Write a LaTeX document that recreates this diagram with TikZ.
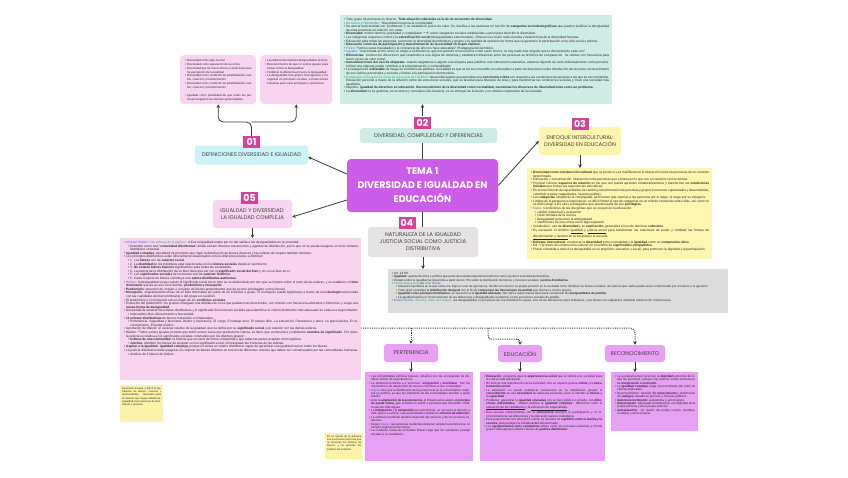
\documentclass[tikz,border=0pt]{standalone}
\usepackage{fontspec}
\setmainfont{Liberation Sans}
\newfontfamily\titlefont{Poppins}
\usepackage{xcolor}
\usepackage{enumitem}
\usepackage{tikz}
\usetikzlibrary{arrows.meta, positioning, calc}

\definecolor{temacol}{HTML}{CC5DE8}
\definecolor{numcol}{HTML}{D6419B}
\definecolor{cyanbg}{HTML}{CBF4F9}
\definecolor{mintbg}{HTML}{CDEDE4}
\definecolor{yellowbg}{HTML}{FDF5B0}
\definecolor{graybg}{HTML}{DCDCDC}
\definecolor{graytop}{HTML}{E4E2E2}
\definecolor{pinkbg}{HTML}{F9D4F1}
\definecolor{lilacbg}{HTML}{E7A0F3}
\definecolor{notebg}{HTML}{FCF3A8}
\definecolor{linecol}{HTML}{3A3A3A}
\definecolor{namecol}{HTML}{2F6FD8}
\definecolor{titlecol}{HTML}{2BAA62}

\newcommand{\detfont}{\fontsize{3.2}{3.6}\selectfont}
\newcommand{\smallfont}{\fontsize{3}{3.4}\selectfont}
\newcommand{\azul}[1]{\textcolor{namecol}{#1}}
\newcommand{\verde}[1]{\textcolor{titlecol}{#1}}
\newcommand{\bloque}[3]{\parbox[t][#2][t]{#1}{\begin{itemize}#3\end{itemize}}}
\setlist[itemize]{label=\textbullet, leftmargin=3pt, labelsep=1pt, itemsep=0pt, parsep=0pt, topsep=0pt, partopsep=0pt}
\setlist[itemize,2]{leftmargin=4pt}
\emergencystretch=3pt

\begin{document}
\begin{tikzpicture}[
    x=1pt, y=-1pt,
    >=Stealth,
    tema/.style={rectangle, fill=temacol, rounded corners=4pt, text=white, align=center,
      font=\titlefont\bfseries\fontsize{9.5}{14}\selectfont, minimum width=151pt, minimum height=53pt},
    topic/.style={rectangle, fill=#1, rounded corners=3pt, align=center, text=black!75,
      font=\titlefont\fontsize{5.4}{7}\selectfont, inner sep=1pt},
    num/.style={rectangle, fill=numcol, text=white, font=\titlefont\bfseries\fontsize{9.5}{9.5}\selectfont,
      minimum width=17pt, minimum height=12pt, inner sep=0pt},
    detbox/.style={rectangle, fill=#1, anchor=north west, inner sep=3pt, font=\detfont, text=black!85},
    note/.style={detbox=notebg, inner sep=2pt, font=\fontsize{2.6}{3.3}\selectfont},
    link/.style={draw=linecol, line width=0.8pt},
    arrow/.style={link, -{Stealth[length=3.5pt, width=3.5pt]}},
    dotarrow/.style={arrow, densely dotted, line width=1pt},
]
    \fill[white] (0,0) rectangle (848,477);
    \useasboundingbox (0,0) rectangle (848,477);

    % Tema central
    \node[tema] (tema) at (422.5,185.5) {TEMA 1\\DIVERSIDAD E IGUALDAD EN\\EDUCACIÓN};

    % 01
    \node[topic=cyanbg, minimum width=113pt, minimum height=19pt] (defbox) at (251.5,155) {DEFINICIONES DIVERSIDAD E IGUALDAD};
    \node[num, above=-3pt of defbox] (n01) {01};

    % 02
    \node[topic=mintbg, minimum width=137pt, minimum height=15pt] (dcbox) at (428.5,135.5) {DIVERSIDAD, COMPLEJIDAD Y DIFERENCIAS};
    \coordinate (n02pos) at (dcbox.north -| tema.north);
    \node[num, anchor=south, yshift=-1pt] (n02) at (n02pos) {02};

    % 03
    \node[topic=yellowbg, minimum width=82pt, minimum height=28pt] (intbox) at (580,141) {ENFOQUE INTERCULTURAL:\\DIVERSIDAD EN EDUCACIÓN};
    \node[num, above=-3pt of intbox] (n03) {03};

    % 04
    \node[topic=graytop, minimum width=110pt, minimum height=30pt] (natbox) at (423,242) {NATURALEZA DE LA IGUALDAD\\JUSTICIA SOCIAL COMO JUSTICIA\\DISTRIBUTIVA};
    \node[num, above=-2pt of natbox, xshift=-16pt] (n04) {04};

    % 05
    \node[topic=pinkbg, minimum width=79pt, minimum height=28pt] (igbox) at (252.5,214) {IGUALDAD Y DIVERSIDAD:\\LA IGUALDAD COMPLEJA};
    \node[num, above=-4pt of igbox, xshift=-3pt] (n05) {05};

    % Definiciones
    \node[detbox=pinkbg, rounded corners=4pt, inner sep=4pt, font=\fontsize{2.9}{3.9}\selectfont] (defa) at (180,55) {\bloque{68pt}{41pt}{
      \item Diversidad como algo normal
      \item Diversidad como separación de la norma
      \item Diversidad que nos hace únicos y condiciona nuestra percepción de la realidad
      \item Diversidad como condición de posibilidad de cambio, creación y transformación
      \item Diversidad como condición de posibilidad de cambio, creación y transformación\vspace{3.9pt}
      \item Igualdad como posibilidad de que todas las personas tengamos las mismas oportunidades}};
    \node[detbox=pinkbg, rounded corners=4pt, inner sep=4pt, font=\fontsize{2.9}{3.9}\selectfont] (defb) at (260,55) {\bloque{64pt}{41pt}{
      \item Las diferencias también desigualdades (Freire)
      \item Reconocimiento de que no somos iguales para luchar contra la desigualdad
      \item Visibilizar la diferencia provoca la desigualdad
      \item La desigualdad crea grupos homogéneos y los organiza en principios sociales, construcciones humanas para crear privilegios y opresiones}};

    % Diversidad y diferencias
    \node[detbox=mintbg] (difbox) at (340,15) {\bloque{266pt}{83pt}{
      \item Todo grupo de personas es diverso. \textbf{Toda situación educativa es la de un encuentro de diversidad.}
      \item \azul{De Greco y Hernández}: ``diversidad incorpora la complejidad''.
      \item Se asocia la diversidad con ``problemas'' y se establecen juicios de valor. Se clasifica a las personas en función de \textbf{categorías sociodemográficas} que pueden justificar la desigualdad de unas personas en relación con otras.
      \item \textbf{Diversidad}: mismo término, pluralidad y complejidad $\rightarrow$ evitar categorías sociales establecidas a priori para describir la diversidad.
      \item Las categorías requieren control y la \textbf{estratificación social} (desigualdades estructurales). Ofrecen una visión reduccionista y determinista de la diversidad humana.
      \item Educación para todas las personas: reconocer la diversidad de individuos y grupos y la realidad de opresión de forma que se garantice la participación en la vida social y política.
      \item \textbf{Educación como vía de participación y transformación de la sociedad en la que vivimos.}
      \item \azul{Freire}: ``Somos seres inacabados y la conciencia de ello nos hace educables'' (Pedagogía del oprimido).
      \item \azul{Aguado}: ``una mirada al otro como un elogio a la diferencia, que nos permite reconocernos como seres únicos; no hay nada más singular que la diversidad de cada uno''.
      \item \textbf{Diferencias}: constructos discursivos que responden a una lógica de sistemas y establecen distancias entre las personas en términos de comparación. Se utilizan con frecuencia para hacer juicios de valor moral.
      \item \textbf{Generalizaciones del uso de etiquetas}: cuando asignamos a alguien una etiqueta para justificar una intervención educativa, estamos dejando de verle individualmente como persona. Utilizar una etiqueta puede contribuir a la estigmatización y vulnerabilidad.
      \item La categoría de \textbf{vulnerable} de riesgo en contextos de pobreza: la realidad es que se les ha convertido en vulnerables a partir de decisiones sobre distribución de recursos, reconocimiento de sus valores personales y sociales y límites a la participación democrática.
      \item \verde{Pedagogía crítica} y \verde{teoría crítica de la escuela de Frankfurt}: desarrollar sujetos que aprendan una \textbf{conciencia crítica} con respecto a las condiciones de opresión a las que se ven sometidos. Educación personal a través de la reflexión sobre las estructuras sociales, que se analizan para liberarse de ellas y para transformar las condiciones sociales y crear una sociedad más igualitaria.
      \item Objetivo: \textbf{igualdad de derechos en educación. Reconocimiento de la diversidad como normalidad, cuestionar los discursos de diversidad vista como un problema.}
      \item La \textbf{diversidad} no se gestiona, se reconoce y normaliza (Gil-Jaurena), es un enfoque de inclusión y un modelo cooperativo de la sociedad.}};

    % Enfoque intercultural
    \node[detbox=yellowbg] (yelbox) at (527,168) {\bloque{179pt}{85pt}{
      \item \textbf{Diversidad como construcción cultural} que se produce y se manifiesta en la interacción entre las personas de un contexto determinado.
      \item Educación = comunicación, interacción entre personas que construyen lo que son en relación con los demás.
      \item Priorizar conocer \textbf{espacios de relación} en los que uno pueda aprender colaborativamente y transformar las \textbf{condiciones iniciales} que limitan las experiencias educativas.
      \item El reconocimiento de capacidades de cambio y transformación de personas y grupos (reconocer capacidades y desarrollarlas, contribuir a estas capacidades, hacerlo posible).
      \item Las \textbf{categorías} simplifican la complejidad, pero hacen que veamos a las personas por el rasgo, el rasgo por su categoría.
      \item Límites de la perspectiva intercultural: es difícil limitar el uso de categorías en un mundo construido sobre ellas, así como no es difícil elegir a los otros privilegiados que pueden partir de sus \textbf{privilegios}.
      \item \azul{Sales}: Condiciones de las disciplinas que se ocupan de la educación:
        \begin{itemize}
        \item cambio intelectual y evaluación
        \item visión limitada de la ciencia
        \item desigualdad para tener la ambigüedad
        \item condiciones de una crítica como algo separado
        \end{itemize}
      \item Vocabulario: uso de \textbf{diversidad} y su \textbf{explicación}, generaliza el uso de términos \textbf{culturales}.
      \item Es necesario el término \underline{igualdad} y \underline{justicia social} para transformar las relaciones de poder y combatir las formas de \underline{discriminación y racismo} en la sociedad y la escuela.
      \item \textbf{Enfoque intercultural}: reconocer la \textbf{diversidad} como normalidad y la \textbf{igualdad} como un \textbf{compromiso ético}.
      \item Ed. = proceso de construcción cultural, en el sentido de \textbf{significados compartidos}.
      \item Praxis orientada a reducir la desigualdad en su propósito, educativo y social, para promover la dignidad y la participación.}};

    % Justicia distributiva
    \node[detbox=graybg, font=\smallfont] (graybox) at (388,269) {\bloque{334pt}{38pt}{
      \item Art. 14 CE
      \item \textbf{Igualdad}: aspiración ética y política que parte de nuestra experiencia histórica como eje de la sociedad democrática.
      \item Debate sobre la igualdad se desarrolla a partir de los 70's sobre la distribución de bienes y recursos sociales: \textbf{justicia distributiva}.
      \item \verde{Teoría de la justicia} de \azul{John Rawls}:
        \begin{itemize}
        \item Situación hipotética en la que cada uno, bajo un velo de ignorancia, decide sin conocer su propia posición en la sociedad cómo distribuir los bienes sociales, de manera que nadie pueda verse condicionado por el interés o el egoísmo.
        \item Trato igual considera la \textbf{distribución desigual} con el fin de \textbf{compensar las desventajas de partida} que afectan a ciertos grupos.
        \item \textbf{Igualdad como principio distributivo}, en oposición a la \textbf{igualdad absoluta}. Dar más a quien menos tiene para compensar las \textbf{desigualdades de partida}.
        \item La igualdad implica el reconocimiento de las diferencias y desigualdades existentes en las posiciones sociales de partida.
        \end{itemize}
      \item \azul{Robert Nozick}, \verde{``Anarchy, State and Utopia''}: las desigualdades no provienen de una distribución injusta, sino de las diferencias entre individuos, y los bienes son adquiridos mediante esfuerzo (R. meritocracia).}};

    % Igualdad compleja
    \node[detbox=pinkbg] (walzbox) at (120,238) {\bloque{235pt}{136pt}{
      \item \azul{Michael Walzer} \verde{``Las esferas de la justicia''}: critica la igualdad simple por no dar salida a las desigualdades en la sociedad.
        \begin{itemize}
        \item Entender como una ``\textbf{comunidad distributiva}'' donde existen diversos mecanismos y agentes de distribución, por lo que no se puede asegurar un único sistema distributivo universal.
        \end{itemize}
      \item \textbf{Igualdad compleja}: pluralidad de principios que rigen la distribución de bienes diversos y las esferas de respeto también diversas.
      \item Los principios distributivos están directamente relacionados con los diferentes bienes a distribuir:
        \begin{itemize}
        \item 1. Los \textbf{bienes} son de \textbf{carácter social}.
        \item 2. La \textbf{identidad} de los individuos está relacionada con los \textbf{bienes sociales} desde el nacimiento.
        \item 3. \textbf{No existen bienes básicos} significativos para todas las sociedades.
        \item 4. La justicia de la distribución de un bien tiene que ver con el \textbf{significado social del bien} y no con el bien en sí.
        \item 5. Los \textbf{significados sociales} de los bienes son de \textbf{carácter histórico}.
        \item 6. Cada conjunto de bienes constituye una \textbf{esfera distributiva autónoma}.
        \end{itemize}
      \item \azul{Walzer}: la desigualdad surge cuando el significado social de un bien se ve desbordado por otro que se impone sobre el resto de las esferas, y se establece un \textbf{bien dominante} que da acceso a los demás: \textbf{predominio y monopolio}.
      \item \textbf{Predominio}: posesión de un bien o conjunto de bienes predominante que da acceso privilegiado a otros bienes.
      \item \textbf{Monopolio}: acaparamiento eficaz de un bien dominante por parte de un individuo o grupo. El monopolio puede legitimarse a través de una \textbf{ideología} relacionada con las cualidades del bien dominante o del grupo en cuestión.
      \item El predominio y el monopolio son el origen de los \textbf{conflictos sociales}.
      \item Evolución del predominio: los grupos consiguen una distribución en la que quedan más favorecidos, con criterios con frecuencia arbitrarios o históricos, y surge una \textbf{nueva forma de desigualdad}.
      \item Necesidad de analizar las esferas distributivas y el significado de los bienes sociales para identificar el criterio distributivo más adecuado en cada una según Walzer:
        \begin{itemize}
        \item Intercambio libre, Merecimiento y Necesidad.
        \end{itemize}
      \item \textbf{11 esferas distributivas} de bienes materiales e inmateriales:
        \begin{itemize}
        \item Pertenencia, Seguridad y bienestar, Dinero y mercancía, El cargo, El trabajo duro, El tiempo libre, La educación, Parentesco y amor, La gracia divina, El reconocimiento, El poder político.
        \end{itemize}
      \item Aportación de Walzer: el carácter relativo de la igualdad, que se define por su \textbf{significado social} y en relación con las demás esferas.
      \item Walzer: ``Todos somos iguales en tanto que todos somos seres que producimos cultura, es decir, que construimos y habitamos \textbf{mundos de significado}. Por tanto, la justicia es relativa a los significados sociales construidos por los distintos grupos''.
        \begin{itemize}
        \item \textbf{Cultura de una comunidad}: la historia que se narra de forma compartida y que todas las partes aceptan como legítima.
        \item \textbf{Justicia}: distribuir los bienes de acuerdo con su significado social, sin traspasar las fronteras de las esferas.
        \end{itemize}
      \item \textbf{Aspirar a la igualdad: igualdad compleja}, porque no existe un criterio distributivo capaz de garantizar una igualdad real en todos los bienes.
      \item La justicia distributiva debe asegurar un conjunto de bienes distintos en función de diferentes criterios que deben ser consensuados por las comunidades humanas.
        \begin{itemize}
        \item Análisis de 3 bienes de Walzer
        \end{itemize}}};

    % Notas
    \node[note] (nota1) at (120,385) {\parbox[t][33pt][t]{39pt}{Necesario aceptar y difícil la distribución de bienes, insumos y oportunidades. Necesaria para la relación que hagan debida desigualdad y las relaciones de dominación y opresión.}};
    \node[note] (nota2) at (325,433) {\parbox[t][22pt][t]{34pt}{En el mundo de la pobreza son muchas las personas que no alcanzan los mínimos de bienes, y se generan las políticas de inclusión.}};

    % Tres esferas
    \node[topic=lilacbg, minimum width=54pt, minimum height=18pt, font=\titlefont\fontsize{5.5}{6.8}\selectfont] (perbox) at (411,353) {PERTENENCIA};
    \node[topic=lilacbg, minimum width=44pt, minimum height=17pt, font=\titlefont\fontsize{5.5}{6.8}\selectfont] (edubox) at (520,353.5) {EDUCACIÓN};
    \node[topic=lilacbg, minimum width=60pt, minimum height=17pt, font=\titlefont\fontsize{5.5}{6.8}\selectfont] (recbox) at (635,353.5) {RECONOCIMIENTO};

    \node[detbox=lilacbg, font=\smallfont] (perdet) at (365,372) {\bloque{102pt}{83pt}{
      \item Las comunidades políticas (países, estados) son las encargadas de distribuir el bien de la pertenencia.
      \item La pertenencia afecta a 2 procesos: \textbf{emigración} y \textbf{movilidad}. Son los mecanismos de adquisición de nuevos miembros a una comunidad.
      \item \azul{Walzer} dice que la distribución de la pertenencia en la comunidad no siempre es política, ya que los miembros de las comunidades deciden a quién admitir.
      \item Ante la \textbf{ampliación de la pertenencia}, el Estado actúa según el \textbf{principio de ayuda mutua}, que consiste en asistir a personas que necesitan condiciones de vida dignas.
      \item La \textbf{inmigración} y la \textbf{emigración} son asimétricas: se reconoce el derecho a salir, pero no a entrar. Las comunidades establecen \textbf{criterios de admisión}.
      \item La admisión territorial también depende del territorio y de los recursos existentes.
      \item Según \azul{Walzer}, las personas residentes deberían ampliar la pertenencia; no hacerlo implicaría una tiranía.
      \item La condición moral de un Estado liberal exige que los residentes puedan acceder a la ciudadanía.}};
    \node[detbox=lilacbg, font=\smallfont] (edudet) at (480,372) {\bloque{119pt}{83pt}{
      \item \textbf{Educación}: programa para la \textbf{supervivencia social} que se refiere a la sociedad para la cual se está planeando.
      \item No solo es una reproducción de la sociedad, sino un espacio para la \textbf{crítica} y la \textbf{transformación social}.
      \item La educación no puede establecer exclusiones en su distribución porque el \textbf{conocimiento} es una \textbf{necesidad} de todas las personas, pero sí atender al \textbf{interés} y la \textbf{capacidad}.
      \item Problema: garantizar la \textbf{igualdad educativa} con un bien público o privado, con \textbf{diferencias individuales}. Walzer plantea la \textbf{igualdad compleja}: diferenciar entre la \underline{educación de los ciudadanos} y la \underline{educación de especialistas}.
      \item Una escuela comprometida con la \textbf{democracia} favorece la participación y el reconocimiento de las diferencias y la educación para la ciudadanía.
      \item Para proporcionar una educación común se necesita un \textbf{equilibrio entre la familia y la escuela}, para proteger la individualidad del alumnado.
      \item Los \textbf{agrupamientos entre estudiantes} deben evitar las escuelas selectivas y formar grupos heterogéneos desde criterios de \textbf{justicia distributiva}.}};
    \node[detbox=lilacbg, font=\smallfont] (recdet) at (611,372) {\bloque{81pt}{53pt}{
      \item La sociedad actual reconoce la \textbf{dignidad} potencial de todas las personas, aunque hay quienes sufren situaciones de \textbf{marginación o exclusión}.
      \item La \textbf{igualdad compleja} exige reconocimiento del resto de esferas implicadas.
      \item Reconocimiento: relación del \textbf{merecimiento} y distribución de \textbf{castigos}, basada en premios y honores públicos.
      \item \textbf{Autorreconocimiento}: autoestima y autorrespeto.
      \item \textbf{Autorrespeto}: adecuada consideración a la dignidad de la propia persona y de la propia posición.
      \item \textbf{Autoposesión}: ser dueño del propio cuerpo, sentidos, cuidados y actos propios.}};

    % Conexiones del tema
    \draw[arrow] ([yshift=11.5pt]tema.west) -- ([yshift=-2pt]defbox.east);
    \draw[arrow] ([yshift=-14.5pt]tema.west) -- ([yshift=-3pt]igbox.east);
    \draw[arrow] (tema.east) -- (intbox.west);
    \draw[link] (tema.north) -- (tema.north |- dcbox.south);
    \draw[link] (tema.south) -- (tema.south |- natbox.north);

    % Hacia los bloques
    \coordinate (brk) at (251.5,122);
    \draw[arrow, rounded corners=5pt] (n01.north) -- (brk) -| (defa.south);
    \draw[arrow, rounded corners=5pt] (brk) -| (defb.south);
    \draw[arrow] (n02.north) -- (n02.north |- difbox.south);
    \draw[arrow] (intbox.south) -- (intbox.south |- yelbox.north);
    \draw[arrow] (natbox.south) -- (natbox.south |- graybox.north);
    \draw[arrow] (igbox.south) -- (igbox.south |- walzbox.north);

    % Esferas
    \coordinate (dline) at (0,328);
    \coordinate (ejog) at (488,339);
    \draw[dotarrow, rounded corners=5pt] (walzbox.east |- dline) -| (recbox.north);
    \draw[dotarrow] (perbox.north |- dline) -- (perbox.north);
    \draw[dotarrow, rounded corners=3pt] (ejog |- dline) -- (ejog) -| (edubox.north);
    \draw[arrow] (perbox.south) -- (perbox.south |- perdet.north);
    \draw[arrow] (edubox.south) -- (edubox.south |- edudet.north);
    \draw[arrow] (recbox.south) -- (recbox.south |- recdet.north);
\end{tikzpicture}
\end{document}
